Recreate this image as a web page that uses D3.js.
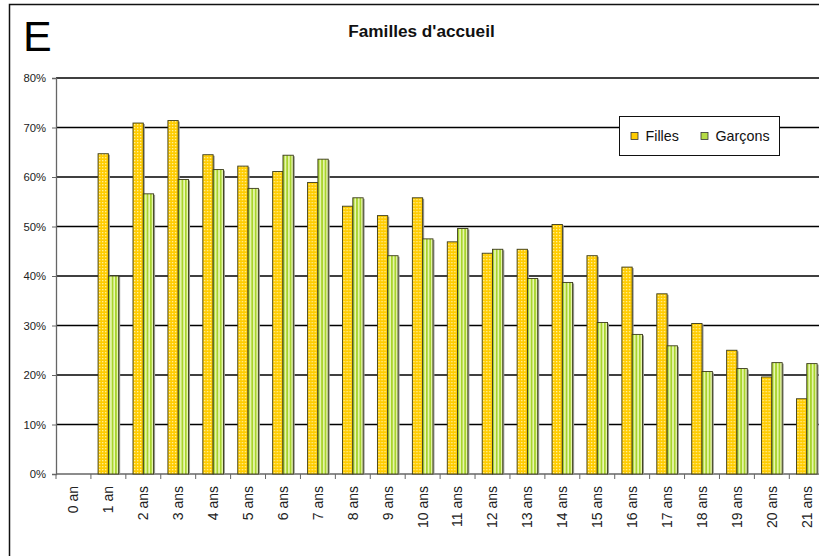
<!DOCTYPE html>
<html>
<head>
<meta charset="utf-8">
<script src="https://cdn.jsdelivr.net/npm/d3@7"></script>
<style>
  html, body { margin: 0; background: #fff; overflow: hidden; }
  svg { display: block; }
  text { font-family: Arial, "Liberation Sans", sans-serif; }
</style>
</head>
<body>
<div id="svg-container"></div>
<script>
////////////////////////////////////////////////////////////////////
////////////////////////////  Data  ////////////////////////////////
const ages = ["0 an", "1 an", "2 ans", "3 ans", "4 ans", "5 ans", "6 ans", "7 ans",
  "8 ans", "9 ans", "10 ans", "11 ans", "12 ans", "13 ans", "14 ans", "15 ans",
  "16 ans", "17 ans", "18 ans", "19 ans", "20 ans", "21 ans"];
const series = ["Filles", "Garçons"];
// % par âge
const filles = [null, 64.7, 70.9, 71.4, 64.5, 62.2, 61.1, 58.9, 54.1, 52.2, 55.8,
  46.9, 44.6, 45.4, 50.4, 44.1, 41.8, 36.4, 30.4, 25.0, 19.6, 15.2];
const garcons = [null, 40.0, 56.6, 59.5, 61.5, 57.7, 64.4, 63.6, 55.8, 44.1, 47.5,
  49.6, 45.4, 39.5, 38.7, 30.6, 28.2, 25.9, 20.7, 21.3, 22.5, 22.3];
const yTicks = [0, 10, 20, 30, 40, 50, 60, 70, 80];

////////////////////////////////////////////////////////////////////
////////////////////////////  Init  ///////////////////////////////
const width = 819, height = 556;
const plot = { left: 56, top: 78, bottom: 474 };
const step = 34.92;

const svg = d3.select("#svg-container").append("svg")
  .attr("width", width).attr("height", height);

// patterns
const defs = svg.append("defs");
const pY = defs.append("pattern").attr("id", "pat-filles")
  .attr("patternUnits", "userSpaceOnUse").attr("width", 3).attr("height", 3);
pY.append("rect").attr("width", 3).attr("height", 3).attr("fill", "#FFCC00");
pY.append("rect").attr("x", 1).attr("y", 1).attr("width", 1.3).attr("height", 1.3).attr("fill", "#FFF0A0");

const pG = defs.append("pattern").attr("id", "pat-garcons")
  .attr("patternUnits", "userSpaceOnUse").attr("width", 3.4).attr("height", 4);
pG.append("rect").attr("width", 3.4).attr("height", 4).attr("fill", "#EAF7B4");
pG.append("rect").attr("width", 1.8).attr("height", 4).attr("fill", "#A8D42C");

const fills = { "Filles": "url(#pat-filles)", "Garçons": "url(#pat-garcons)" };
const legendFills = { "Filles": "#FFCC00", "Garçons": "#B5DB45" };

// scales
const x0 = d3.scaleBand()
  .domain(ages)
  .range([plot.left, plot.left + step * ages.length])
  .paddingInner(0.41)
  .paddingOuter(0.205);

const x1 = d3.scaleBand()
  .domain(series)
  .range([0, x0.bandwidth()]);

const y = d3.scaleLinear().domain([0, 80]).range([plot.bottom, plot.top]);

// outer frame (right and bottom sides fall outside the picture)
svg.append("path")
  .attr("d", `M9.5,${height + 10}V4.5H${width + 10}`)
  .attr("fill", "none").attr("stroke", "#111").attr("stroke-width", 1.5);

// big letter + title
svg.append("text")
  .attr("x", 23).attr("y", 51)
  .attr("font-size", 43)
  .attr("fill", "#000")
  .text("E");

svg.append("text")
  .attr("x", 421.5).attr("y", 37)
  .attr("text-anchor", "middle")
  .attr("font-size", 17.2)
  .attr("font-weight", "bold")
  .attr("fill", "#111")
  .text("Familles d'accueil");

// grid
svg.append("g")
  .selectAll("line")
  .data(yTicks.filter((d) => d > 0))
  .join("line")
  .attr("x1", plot.left).attr("x2", width)
  .attr("y1", (d) => y(d)).attr("y2", (d) => y(d))
  .attr("stroke", "#000")
  .attr("stroke-width", 1.4);

// y axis
const yAxis = svg.append("g")
  .attr("transform", `translate(${plot.left},0)`)
  .call(d3.axisLeft(y).tickValues(yTicks).tickSize(4).tickPadding(6).tickFormat((d) => d + "%"));
yAxis.select(".domain").attr("stroke", "#666").attr("stroke-width", 1.3);
yAxis.selectAll(".tick line").attr("stroke", "#666");
yAxis.selectAll("text").attr("font-size", 11.3).attr("fill", "#222")
  .attr("font-family", "Arial, 'Liberation Sans', sans-serif");

// x axis
const boundaries = d3.range(ages.length + 1).map((i) => plot.left + i * step);
svg.append("line")
  .attr("x1", plot.left).attr("x2", width)
  .attr("y1", plot.bottom).attr("y2", plot.bottom)
  .attr("stroke", "#666").attr("stroke-width", 1.3);
svg.append("g")
  .selectAll("line")
  .data(boundaries)
  .join("line")
  .attr("x1", (d) => d).attr("x2", (d) => d)
  .attr("y1", plot.bottom).attr("y2", plot.bottom + 5)
  .attr("stroke", "#666");

svg.append("g")
  .selectAll("text")
  .data(ages)
  .join("text")
  .attr("transform", (d) => `translate(${x0(d) + x0.bandwidth() / 2},486) rotate(-90)`)
  .attr("text-anchor", "end")
  .attr("dy", "0.35em")
  .attr("font-size", 14)
  .attr("fill", "#222")
  .text((d) => d);

// bars
const rows = ages.map((a, i) => ({ age: a, Filles: filles[i], "Garçons": garcons[i] }));
const groups = svg.append("g")
  .selectAll("g")
  .data(rows)
  .join("g")
  .attr("transform", (d) => `translate(${x0(d.age)},0)`);

const bars = groups.selectAll("g")
  .data((d) => series.map((s) => ({ key: s, value: d[s] })).filter((b) => b.value != null))
  .join("g");

// shadow
bars.append("rect")
  .attr("x", (d) => x1(d.key) + 1.5)
  .attr("y", (d) => y(d.value) + 1)
  .attr("width", x1.bandwidth())
  .attr("height", (d) => plot.bottom - y(d.value) - 1)
  .attr("fill", "#999");

bars.append("rect")
  .attr("x", (d) => x1(d.key))
  .attr("y", (d) => y(d.value))
  .attr("width", x1.bandwidth())
  .attr("height", (d) => plot.bottom - y(d.value))
  .attr("fill", (d) => fills[d.key])
  .attr("stroke", "#3a3a1a")
  .attr("stroke-width", 0.9);

// legend
const legend = svg.append("g").attr("transform", "translate(619.5,116.5)");
legend.append("rect")
  .attr("width", 160).attr("height", 39)
  .attr("fill", "#fff").attr("stroke", "#111").attr("stroke-width", 1);

const legendX = [11.5, 81.5];
const item = legend.selectAll("g.item")
  .data(series)
  .join("g")
  .attr("class", "item")
  .attr("transform", (d, i) => `translate(${legendX[i]},16)`);
item.append("rect")
  .attr("width", 7).attr("height", 7)
  .attr("fill", (d) => legendFills[d])
  .attr("stroke", "#333").attr("stroke-width", 0.8);
item.append("text")
  .attr("x", 14.5).attr("y", 8)
  .attr("font-size", 14.3)
  .attr("fill", "#111")
  .text((d) => d);
</script>
</body>
</html>
